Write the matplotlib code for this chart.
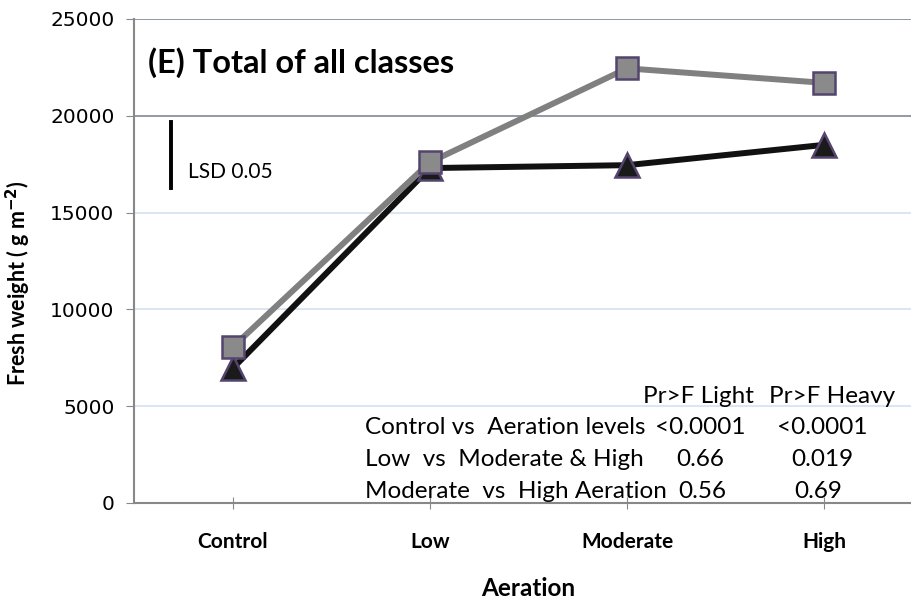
import matplotlib.pyplot as plt

categories = ['Control', 'Low', 'Moderate', 'High']
light = [8050, 17600, 22450, 21700]
heavy = [6950, 17300, 17450, 18500]
lsd_low, lsd_high = 16250, 19700

table_header = ['Pr>F Light', 'Pr>F Heavy']
table_rows = ['Control vs  Aeration levels', 'Low  vs  Moderate & High', 'Moderate  vs  High Aeration']
table_light = ['<0.0001', '0.66', '0.56']
table_heavy = ['<0.0001', '0.019', '0.69']

body_font = 'Lato'

fig = plt.figure(figsize=(9.11, 6.02), dpi=100)
ax = fig.add_axes([134 / 911, 99 / 602, 789 / 911, 484 / 602])

x = list(range(len(categories)))
ax.plot(x, light, color='#808080', lw=4.3, marker='s', ms=16.5, mfc='#8a8a8a',
        mec='#54446e', mew=1.8, zorder=4)
ax.plot(x, heavy, color='#111111', lw=4.3, marker='^', ms=17, mfc='#1a1a1a',
        mec='#54446e', mew=1.8, zorder=3)

ax.set_xlim(-0.5, 3.5)
ax.set_ylim(0, 25000)
ax.set_yticks([0, 5000, 10000, 15000, 20000, 25000])
ax.set_xticks(x)
ax.set_xticklabels(categories, fontfamily=body_font, fontweight='bold', fontsize=15)
for lab in ax.get_yticklabels():
    lab.set_fontfamily('DejaVu Sans')
    lab.set_fontsize(14.5)

for v, c in [(5000, '#d6e0f0'), (10000, '#d6e0f0'), (15000, '#d6e0f0'),
             (20000, '#7d8796'), (25000, '#7d8796')]:
    ax.axhline(v, color=c, lw=1.2, zorder=1)

for s in ['top', 'right']:
    ax.spines[s].set_visible(False)
ax.spines['left'].set_color('#888888')
ax.spines['bottom'].set_color('#888888')
ax.spines['left'].set_linewidth(1.5)
ax.spines['bottom'].set_linewidth(1.5)
ax.tick_params(axis='y', direction='out', length=6, color='#888888', pad=8)
ax.tick_params(axis='x', direction='inout', length=8, color='#888888', pad=17)

ax.set_xlabel('Aeration', fontfamily=body_font, fontweight='bold', fontsize=17.5, labelpad=18)
ax.set_ylabel('Fresh weight ( g m$^{\\mathbf{-2}}$)', fontfamily=body_font,
              fontweight='bold', fontsize=15.5)
ax.yaxis.set_label_coords(-0.128, 0.455)

ax.text(0.018, 0.91, '(E) Total of all classes', transform=ax.transAxes,
        fontfamily=body_font, fontweight='bold', fontsize=23.5, va='center')

ax.plot([-0.31, -0.31], [lsd_low, lsd_high], color='black', lw=2.8, zorder=4)
ax.text(-0.225, 17100, 'LSD 0.05', fontfamily=body_font, fontsize=15, va='center')

fs = 17.5
ax.text(2.36, 5500, table_header[0], fontfamily=body_font, fontsize=fs, ha='center', va='center')
ax.text(3.04, 5500, table_header[1], fontfamily=body_font, fontsize=fs, ha='center', va='center')
row_y = [3880, 2230, 570]
light_x = [2.37, 2.37, 2.38]
heavy_x = [2.99, 2.99, 2.97]
for i, label in enumerate(table_rows):
    ax.text(0.67, row_y[i], label, fontfamily=body_font, fontsize=fs, va='center')
    ax.text(light_x[i], row_y[i], table_light[i], fontfamily=body_font, fontsize=fs, ha='center', va='center')
    ax.text(heavy_x[i], row_y[i], table_heavy[i], fontfamily=body_font, fontsize=fs, ha='center', va='center')

fig.savefig('out.png', dpi=100)
